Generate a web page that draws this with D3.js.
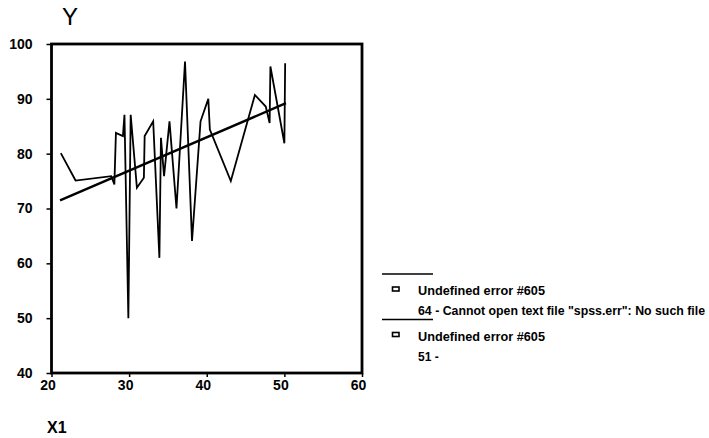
<!DOCTYPE html>
<html>
<head>
<meta charset="utf-8">
<script src="https://cdn.jsdelivr.net/npm/d3@7"></script>
<style>
html,body{margin:0;padding:0;background:#fff;}
svg{display:block;}
text{font-family:"Liberation Sans",Arial,sans-serif;fill:#000;}
</style>
</head>
<body>
<svg id="chart" width="709" height="438"></svg>
<script>
// ---- data ----
const xValues = [21.2, 23.1, 27.7, 28.1, 28.3, 29.2, 29.4, 29.9, 30.2, 31.0, 31.9, 32.0, 33.1, 33.9, 34.1, 34.5, 35.2, 36.1, 37.2, 38.1, 39.2, 40.2, 40.4, 43.1, 46.2, 47.6, 48.1, 48.2, 50.0, 50.1];
const yValues = [80.1, 75.1, 75.9, 74.4, 83.8, 83.2, 87.1, 50.0, 87.1, 73.8, 75.6, 83.2, 85.9, 61.0, 82.9, 75.9, 85.9, 70.0, 96.8, 64.1, 85.9, 90.0, 84.4, 75.0, 90.7, 88.6, 85.6, 95.9, 81.9, 96.5];
const fitX = [21.1, 50.2];
const fitY = [71.5, 89.2];
const xTicks = [20, 30, 40, 50, 60];
const yTicks = [40, 50, 60, 70, 80, 90, 100];
const xLabel = "X1";
const yLabel = "Y";
const legendItems = ["Undefined error #605", "Undefined error #605"];
const legendSubs = ["64 - Cannot open text file \"spss.err\": No such file", "51 -"];

const svg = d3.select("#chart");
const x = d3.scaleLinear().domain([20, 60]).range([51.5, 362]);
const y = d3.scaleLinear().domain([40, 100]).range([373, 44]);

// axes
const xAxis = d3.axisBottom(x).tickValues(xTicks).tickSize(4).tickFormat(d3.format("d"));
const yAxis = d3.axisLeft(y).tickValues(yTicks).tickSize(5).tickFormat(d3.format("d"));

const gx = svg.append("g").attr("transform", `translate(0,${y(40)})`).call(xAxis);
gx.select(".domain").remove();
gx.selectAll("line").attr("stroke", "#000").attr("stroke-width", 1.5);
gx.selectAll("text").attr("font-size", 14).attr("font-weight", "bold")
  .attr("dx", -4).attr("dy", "0.75em").attr("y", 6);

const gy = svg.append("g").attr("transform", `translate(${x(20)},0)`).call(yAxis);
gy.select(".domain").remove();
gy.selectAll("line").attr("stroke", "#000").attr("stroke-width", 1.5);
gy.selectAll("text").attr("font-size", 14).attr("font-weight", "bold").attr("x", -19);

// frame
svg.append("rect")
  .attr("x", x(20)).attr("y", y(100))
  .attr("width", x(60) - x(20)).attr("height", y(40) - y(100))
  .attr("fill", "none").attr("stroke", "#000").attr("stroke-width", 2.8);

// data line
const pts = xValues.map((v, i) => [v, yValues[i]]);
svg.append("path")
  .datum(pts)
  .attr("fill", "none").attr("stroke", "#000").attr("stroke-width", 1.8)
  .attr("stroke-linejoin", "miter")
  .attr("d", d3.line().x(d => x(d[0])).y(d => y(d[1])));

// fit line
svg.append("path")
  .datum(fitX.map((v, i) => [v, fitY[i]]))
  .attr("fill", "none").attr("stroke", "#000").attr("stroke-width", 2.4)
  .attr("d", d3.line().x(d => x(d[0])).y(d => y(d[1])));

// axis titles
svg.append("text").attr("x", 62).attr("y", 25).attr("font-size", 24).text(yLabel);
svg.append("text").attr("x", 47).attr("y", 433).attr("font-size", 16).attr("font-weight", "bold").text(xLabel);

// legend
const legTop = [274, 319.5];
legendItems.forEach((t, i) => {
  const base = legTop[i];
  svg.append("line").attr("x1", 382).attr("x2", 433).attr("y1", base).attr("y2", base)
    .attr("stroke", "#000").attr("stroke-width", 1.6);
  svg.append("rect").attr("x", 392.5).attr("y", base + 13).attr("width", 6.5).attr("height", 4)
    .attr("fill", "none").attr("stroke", "#000").attr("stroke-width", 1.6);
  svg.append("text").attr("x", 418).attr("y", base + 21).attr("font-size", 12).attr("font-weight", "bold")
    .attr("textLength", 127).attr("lengthAdjust", "spacingAndGlyphs").text(t);
  const sub = svg.append("text").attr("x", 418).attr("y", base + 41).attr("font-size", 12)
    .attr("font-weight", "bold").text(legendSubs[i]);
  if (i === 0) sub.attr("textLength", 287).attr("lengthAdjust", "spacingAndGlyphs");
});
</script>
</body>
</html>
